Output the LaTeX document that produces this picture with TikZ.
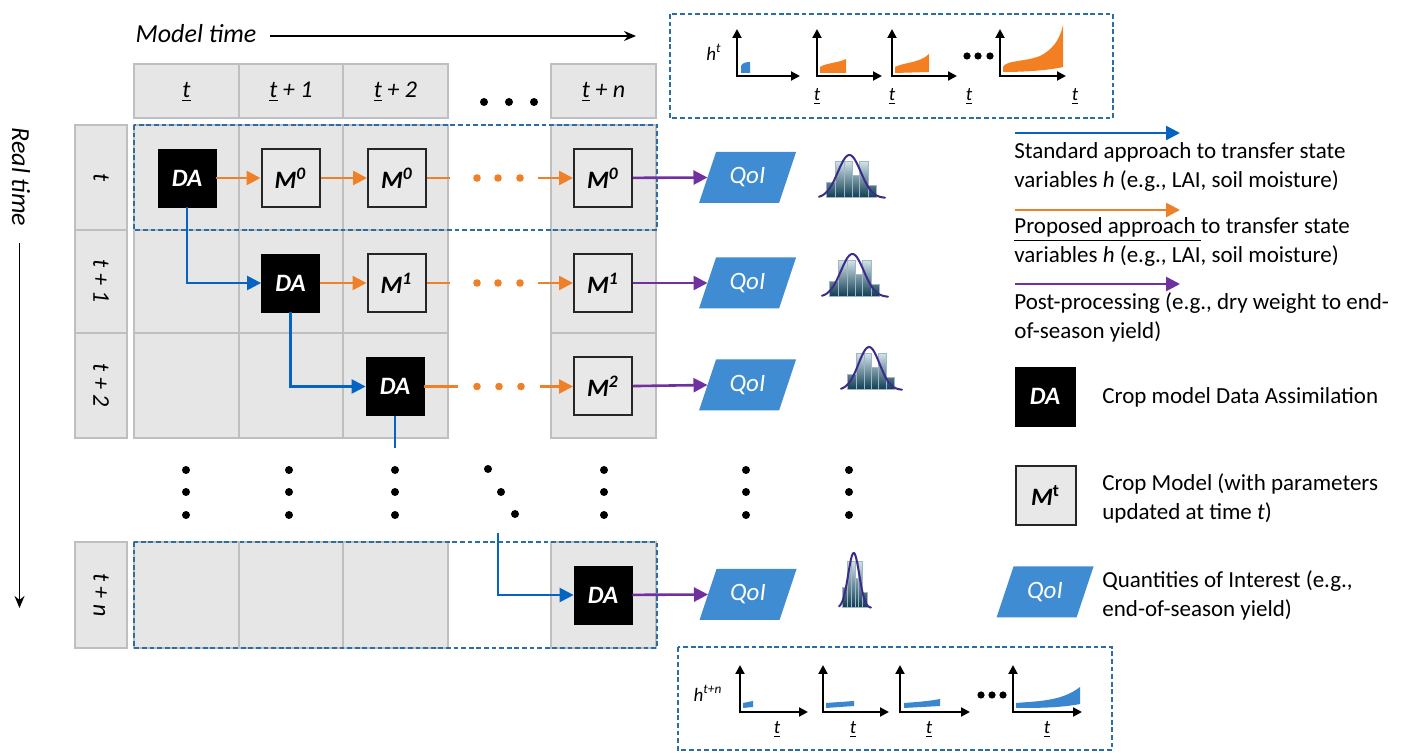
\documentclass[tikz,border=0pt]{standalone}
\usepackage{fontspec}
\setmainfont{Carlito}
\usetikzlibrary{arrows.meta,calc}
\definecolor{cellfill}{HTML}{E6E6E6}
\definecolor{cellline}{HTML}{BFBFBF}
\definecolor{mfill}{HTML}{E8E8E8}
\definecolor{dashc}{HTML}{2E6DA4}
\definecolor{bluec}{HTML}{0563C1}
\definecolor{orangec}{HTML}{F08028}
\definecolor{purplec}{HTML}{7030A0}
\definecolor{qoic}{HTML}{3F8CD2}
\definecolor{chartblue}{HTML}{3A87CF}
\definecolor{chartorange}{HTML}{F28023}
\definecolor{histdark}{HTML}{0B3A50}
\definecolor{histlight}{HTML}{D4E4EA}
\definecolor{histedge}{HTML}{9FB8C4}
\definecolor{histcurve}{HTML}{3B2C8C}

\newcommand\qoishape[3]{%
  \fill[qoic] (#2-48.5,#3+25.5) -- (#2+31.5,#3+25.5) -- (#2+48.5,#3-25.5) -- (#2-31.5,#3-25.5) -- cycle;
  \node[qoitext] (#1) at (#2,#3) {QoI};
  \coordinate (#1in) at (#2-40,#3);
}
\newcommand\histo[4]{%
  \begin{scope}[shift={(#1,#2)}, x=#3, y=#4]
    \begin{scope}
      \clip (0.11,0) rectangle (0.25,0.37) (0.25,0) rectangle (0.38,0.84)
            (0.38,0) rectangle (0.50,0.84) (0.50,0) rectangle (0.62,0.53)
            (0.62,0) rectangle (0.745,0.84) (0.745,0) rectangle (0.875,0.29);
      \shade[top color=histlight, bottom color=histdark] (0,0) rectangle (1,0.86);
    \end{scope}
    \draw[histedge, line width=0.5pt] (0.11,0) rectangle (0.25,0.37) (0.25,0) rectangle (0.38,0.84)
            (0.38,0) rectangle (0.50,0.84) (0.50,0) rectangle (0.62,0.53)
            (0.62,0) rectangle (0.745,0.84) (0.745,0) rectangle (0.875,0.29);
    \draw[histcurve, line width=1pt, line cap=round] plot[domain=0:1, samples=50, smooth] (\x,{exp(-((\x-0.46)^2)/0.06)});
  \end{scope}}
\newcommand\miniaxes[4]{%
  \draw[black, line width=1pt, {Triangle[length=4.5pt,width=4.5pt]}-{Triangle[length=4.5pt,width=4.5pt]}] (#1,#4) -- (#1,#2) -- (#3,#2);}

\begin{document}
\begin{tikzpicture}[x=0.5pt, y=-0.5pt,
  cell/.style={draw=cellline, fill=cellfill, line width=0.6pt},
  dabox/.style={fill=black, draw=black, minimum width=29pt, minimum height=29pt, inner sep=0pt, text=white, font=\fontsize{12.5}{14}\selectfont\bfseries\itshape},
  mbox/.style={fill=mfill, draw=black!85, line width=1pt, minimum width=29pt, minimum height=29pt, inner sep=0pt, font=\fontsize{12.5}{14}\selectfont\bfseries\itshape},
  qoitext/.style={text=white, font=\fontsize{12.5}{14}\selectfont\itshape, inner sep=0pt},
  hdr/.style={font=\fontsize{12}{14}\selectfont\itshape, inner sep=0pt},
  rowlab/.style={font=\fontsize{12}{14}\selectfont\itshape, inner sep=0pt, rotate=-90},
  orline/.style={draw=orangec, line width=1.25pt},
  orarr/.style={draw=orangec, line width=1.25pt, -{Triangle[length=7pt,width=7pt]}},
  bluel/.style={draw=bluec, line width=1.2pt},
  bluearr/.style={draw=bluec, line width=1.2pt, -{Triangle[length=7pt,width=7pt]}},
  purarr/.style={draw=purplec, line width=1.3pt, -{Triangle[length=7pt,width=7pt]}},
  dashbox/.style={draw=dashc, line width=1.15pt, dash pattern=on 2.4pt off 1.4pt},
  thinarr/.style={draw=black, line width=0.6pt, -{Stealth[length=6pt,width=5pt]}},
  legtext/.style={font=\fontsize{11.5}{14.5}\selectfont, align=left, inner sep=0pt},
  minilab/.style={font=\fontsize{9.5}{11}\selectfont\itshape, inner sep=0pt}]

\useasboundingbox (0,0) rectangle (1405,753);
\fill[white] (0,0) rectangle (1405,753);

% ---------- titles ----------
\node[font=\fontsize{13}{15}\selectfont\itshape, inner sep=0pt] (modeltime) at (196,34) {Model time};
\coordinate (mtstart) at (270,36);
\coordinate (mtend) at (636,36);
\draw[thinarr] (mtstart) -- (mtend);
\node[font=\fontsize{13}{15}\selectfont\itshape, inner sep=0pt, rotate=-90] (realtime) at (21,177) {Real time};
\coordinate (rtstart) at (19.5,243);
\coordinate (rtend) at (19.5,608);
\draw[thinarr] (rtstart) -- (rtend);

% ---------- header ----------
\draw[cell] (134,64) rectangle (239,118);
\draw[cell] (239,64) rectangle (343,118);
\draw[cell] (343,64) rectangle (448,118);
\draw[cell] (551,64) rectangle (656,118);
\node[hdr] (h0) at (186.5,92) {\underline{\textit{t}}};
\node[hdr] (h1) at (291,92) {\underline{\textit{t}} + 1};
\node[hdr] (h2) at (395.5,92) {\underline{\textit{t}} + 2};
\node[hdr] (hn) at (603.5,92) {\underline{\textit{t}} + \textit{n}};
\foreach \xx in {484,509,534} \fill[black] (\xx,102) circle[radius=2pt];

% ---------- grid ----------
\foreach \ya/\yb in {125/230, 230/333, 333/438, 542/648} {
  \draw[cell] (75,\ya) rectangle (127,\yb);
  \foreach \xa/\xb in {134/239, 239/343, 343/448, 551/656}
    \draw[cell] (\xa,\ya) rectangle (\xb,\yb);
}
\node[rowlab] (r0) at (101,177.5) {t};
\node[rowlab] (r1) at (101,281.5) {t + 1};
\node[rowlab] (r2) at (101,385.5) {t + 2};
\node[rowlab] (rn) at (101,595) {t + n};

\draw[dashbox] (134,125) rectangle (657,230);
\draw[dashbox] (134,542) rectangle (657,648);

% ---------- row t ----------
\node[dabox] (da1) at (187,178) {DA};
\node[mbox] (m0a) at (290.5,178) {M\textsuperscript{0}};
\node[mbox] (m0b) at (397,178) {M\textsuperscript{0}};
\node[mbox] (m0c) at (603,178) {M\textsuperscript{0}};
\draw[orarr] (da1) -- (m0a);
\draw[orarr] (m0a) -- (m0b);
\coordinate (o1a) at (450,178);
\coordinate (o1b) at (538,178);
\draw[orline] (m0b) -- (o1a);
\foreach \xx in {477,498,520} \fill[orangec] (\xx,178) circle[radius=1.9pt];
\draw[orarr] (o1b) -- (m0c);

% ---------- row t+1 ----------
\node[dabox] (da2) at (290.5,283) {DA};
\node[mbox] (m1a) at (396.5,283) {M\textsuperscript{1}};
\node[mbox] (m1c) at (603,283) {M\textsuperscript{1}};
\draw[orarr] (da2) -- (m1a);
\coordinate (o2a) at (450,283);
\coordinate (o2b) at (538,283);
\draw[orline] (m1a) -- (o2a);
\foreach \xx in {477,498,520} \fill[orangec] (\xx,283) circle[radius=1.9pt];
\draw[orarr] (o2b) -- (m1c);

% ---------- row t+2 ----------
\node[dabox] (da3) at (395,386.5) {DA};
\node[mbox] (m2) at (603,386.5) {M\textsuperscript{2}};
\coordinate (o3a) at (458,386.5);
\coordinate (o3b) at (540,386.5);
\draw[orline] (da3) -- (o3a);
\foreach \xx in {477,499,521} \fill[orangec] (\xx,386.5) circle[radius=1.9pt];
\draw[orarr] (o3b) -- (m2);

% ---------- row t+n ----------
\node[dabox] (da4) at (603,595) {DA};

% ---------- blue connectors ----------
\draw[bluearr] (da1.south) |- (da2.west);
\draw[bluearr] (da2.south) |- (da3.west);
\coordinate (c3) at (395,448);
\draw[bluel] (da3.south) -- (c3);
\coordinate (c4) at (498,533);
\draw[bluearr] (c4) |- (da4.west);

% ---------- vertical dots ----------
\foreach \xx in {186,289,395,604,746,849}
  \foreach \yy in {470,492,515} \fill[black] (\xx,\yy) circle[radius=2pt];
\fill[black] (488,469) circle[radius=2pt];
\fill[black] (501,492) circle[radius=2pt];
\fill[black] (515,514) circle[radius=2pt];

% ---------- QoI + histograms ----------
\qoishape{q1}{747.5}{177.5}
\qoishape{q2}{747.5}{283}
\qoishape{q3}{747.5}{385}
\qoishape{q4}{748}{594.5}
\draw[purarr] (m0c) -- (q1in);
\draw[purarr] (m1c) -- (q2in);
\draw[purarr] (m2) -- (q3in);
\draw[purarr] (da4) -- (q4in);

\histo{819}{198}{33pt}{21.5pt}
\histo{822}{297}{33pt}{21.5pt}
\histo{841}{390}{30.5pt}{21.5pt}
\histo{839}{608}{16pt}{27.5pt}

% ---------- top mini charts ----------
\draw[dashbox] (670,14) rectangle (1113,118);
\node[minilab] (ht) at (714,52) {h\textsuperscript{t}};
\fill[chartblue] (741,73) -- (741,66) .. controls (742,63) and (746,62) .. (750,62) -- (750,73) -- cycle;
\miniaxes{737}{76}{800}{29}
\fill[chartorange] (820,73) -- (820,67) .. controls (826,63) and (838,63) .. (846,59) -- (846,73) -- cycle;
\miniaxes{817}{76}{882}{29}
\fill[chartorange] (895,73) -- (895,67) .. controls (905,62) and (920,63) .. (929,54) -- (929,72) -- cycle;
\miniaxes{892}{76}{957}{29}
\foreach \xx in {967,978,990} \fill[black] (\xx,56) circle[radius=1.8pt];
\fill[chartorange] (1003,72) -- (1003,67) .. controls (1006,60) and (1025,62) .. (1040,56) .. controls (1052,50) and (1060,40) .. (1063,25) -- (1063,67) .. controls (1045,71) and (1020,72) .. (1003,72) -- cycle;
\miniaxes{1000}{76}{1066}{29}
\node[minilab] (ta1) at (817,97) {\underline{t}};
\node[minilab] (ta2) at (892,97) {\underline{t}};
\node[minilab] (ta3) at (969,97) {\underline{t}};
\node[minilab] (ta4) at (1075,97) {\underline{t}};

% ---------- bottom mini charts ----------
\draw[dashbox] (678,647) rectangle (1112,750);
\node[minilab] (htn) at (708,693) {h\textsuperscript{t+n}};
\fill[chartblue] (743,708) -- (743,703) -- (753,701) -- (753,707) -- cycle;
\miniaxes{740}{712}{808}{665}
\fill[chartblue] (826,708) -- (826,703) -- (854,701) -- (854,706) -- cycle;
\miniaxes{823}{712}{889}{665}
\fill[chartblue] (904,708) -- (904,703) .. controls (918,702) and (930,701) .. (940,699) -- (940,706) -- cycle;
\miniaxes{900}{712}{970}{665}
\foreach \xx in {981,992,1003} \fill[black] (\xx,695) circle[radius=1.8pt];
\fill[chartblue] (1016,708) -- (1016,703) .. controls (1040,701) and (1062,701) .. (1080,687) -- (1080,704) .. controls (1060,708) and (1035,708) .. (1016,708) -- cycle;
\miniaxes{1013}{712}{1082}{665}
\node[minilab] (tb1) at (777,730) {\underline{t}};
\node[minilab] (tb2) at (853,730) {\underline{t}};
\node[minilab] (tb3) at (929,730) {\underline{t}};
\node[minilab] (tb4) at (1047,730) {\underline{t}};

% ---------- legend ----------
\coordinate (l1a) at (1015,133);
\coordinate (l1b) at (1180,133);
\draw[bluearr] (l1a) -- (l1b);
\node[legtext, anchor=west] (lt1) at (1014,167) {Standard approach to transfer state\\variables \textit{h} (e.g., LAI, soil moisture)};
\coordinate (l2a) at (1015,210);
\coordinate (l2b) at (1180,210);
\draw[orarr] (l2a) -- (l2b);
\node[legtext, anchor=west] (lt2) at (1014,242) {\underline{Proposed approach }to transfer state\\variables \textit{h} (e.g., LAI, soil moisture)};
\coordinate (l3a) at (1015,284);
\coordinate (l3b) at (1180,284);
\draw[purarr] (l3a) -- (l3b);
\node[legtext, anchor=west] (lt3) at (1014,317) {Post-processing (e.g., dry weight to end-\\of-season yield)};

\node[dabox, minimum width=30pt, minimum height=29.5pt] (lda) at (1045,396.5) {DA};
\node[legtext, anchor=west] (lt4) at (1102,397) {Crop model Data Assimilation};
\node[mbox, minimum width=30pt, minimum height=29.5pt] (lm) at (1045.5,495.5) {M\textsuperscript{\upshape t}};
\node[legtext, anchor=west] (lt5) at (1102,498.5) {Crop Model (with parameters\\updated at time \textit{t})};
\qoishape{lq}{1045}{592}
\node[legtext, anchor=west] (lt6) at (1102,595) {Quantities of Interest (e.g.,\\end-of-season yield)};
\end{tikzpicture}
\end{document}
